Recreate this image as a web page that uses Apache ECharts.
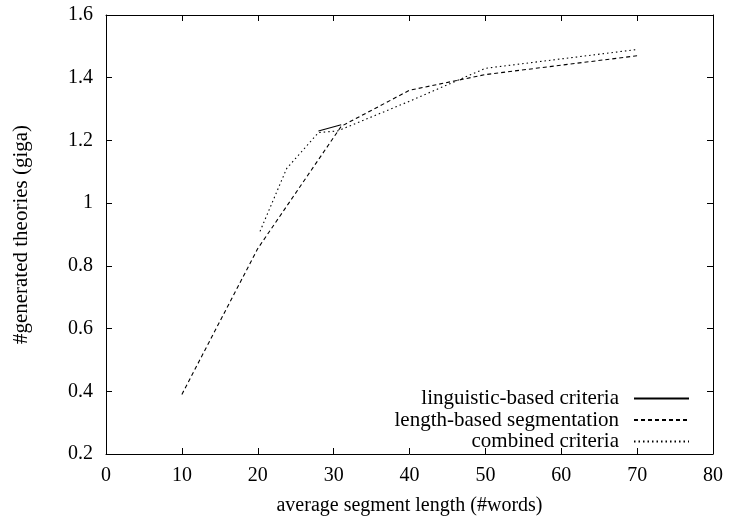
<!DOCTYPE html>
<html><head><meta charset="utf-8">
<script src="https://cdn.jsdelivr.net/npm/echarts@6/dist/echarts.min.js"></script>
<style>html,body{margin:0;padding:0;background:#fff}#c{width:730px;height:521px}</style>
</head><body><div id="c"></div>
<script>
const seriesNames = ['linguistic-based criteria', 'length-based segmentation', 'combined criteria'];
const linguisticData = [[28, 1.23], [31, 1.25]];
const lengthData = [[10, 0.39], [20, 0.855], [31, 1.245], [40, 1.36], [50, 1.41], [70, 1.47]];
const combinedData = [[20.3, 0.91], [23.8, 1.11], [28, 1.225], [30.5, 1.23], [40, 1.325], [50, 1.43], [70, 1.49]];
const xTicks = [0, 80, 10];
const yTicks = [0.2, 1.6, 0.2];
const xName = 'average segment length (#words)';
const yName = '#generated theories (giga)';

const font = 'Liberation Serif';
const chart = echarts.init(document.getElementById('c'), null, {renderer: 'canvas'});
const axisCommon = {
  axisLine: {show: true, onZero: false, lineStyle: {color: '#000', width: 1}},
  axisTick: {show: true, inside: true, length: 6, lineStyle: {color: '#000'}},
  splitLine: {show: false}
};
const lineStyles = [
  {color: '#000', width: 1.1, type: 'solid'},
  {color: '#000', width: 1.1, type: [4, 3]},
  {color: '#000', width: 1.1, type: [1.5, 3]}
];
chart.setOption({
  animation: false,
  backgroundColor: '#fff',
  grid: {left: 106, right: 17, top: 15, bottom: 65},
  legend: {
    right: 35, bottom: 64, orient: 'vertical', align: 'right',
    itemWidth: 55, itemHeight: 10, itemGap: 0.5,
    itemStyle: {opacity: 0, borderWidth: 0},
    textStyle: {fontFamily: font, fontSize: 21, color: '#000', lineHeight: 21, padding: [0, 10, 0, 0]},
    data: seriesNames
  },
  xAxis: [
    Object.assign({type: 'value', min: xTicks[0], max: xTicks[1], interval: xTicks[2], position: 'bottom',
      name: xName, nameLocation: 'middle', nameGap: 42,
      nameTextStyle: {fontFamily: font, fontSize: 20, color: '#000'},
      axisLabel: {fontFamily: font, fontSize: 20, color: '#000', margin: 12}}, axisCommon),
    Object.assign({type: 'value', min: xTicks[0], max: xTicks[1], interval: xTicks[2], position: 'top',
      axisLabel: {show: false}}, axisCommon)
  ],
  yAxis: [
    Object.assign({type: 'value', min: yTicks[0], max: yTicks[1], interval: yTicks[2], position: 'left',
      name: yName, nameLocation: 'middle', nameGap: 74,
      nameTextStyle: {fontFamily: font, fontSize: 21, color: '#000'},
      axisLabel: {fontFamily: font, fontSize: 20, color: '#000', margin: 13}}, axisCommon),
    Object.assign({type: 'value', min: yTicks[0], max: yTicks[1], interval: yTicks[2], position: 'right',
      axisLabel: {show: false}}, axisCommon)
  ],
  series: [
    {name: seriesNames[0], type: 'line', data: linguisticData, symbol: 'circle', showSymbol: false, lineStyle: lineStyles[0], itemStyle: {color: '#000'}},
    {name: seriesNames[1], type: 'line', data: lengthData, symbol: 'circle', showSymbol: false, lineStyle: lineStyles[1], itemStyle: {color: '#000'}},
    {name: seriesNames[2], type: 'line', data: combinedData, symbol: 'circle', showSymbol: false, lineStyle: lineStyles[2], itemStyle: {color: '#000'}}
  ]
});
</script></body></html>
